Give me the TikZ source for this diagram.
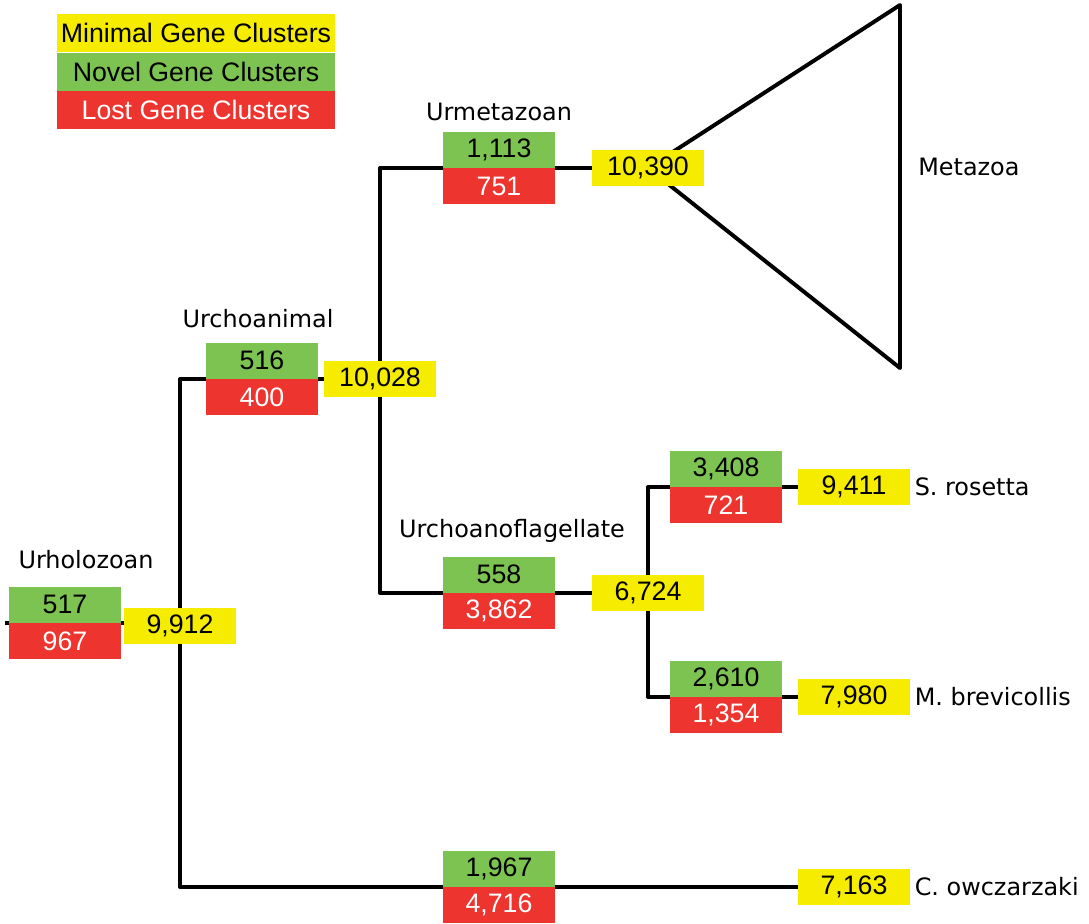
\documentclass[tikz,border=0pt]{standalone}
\usepackage{fontspec}
\setmainfont{Liberation Sans}
\newfontfamily\cladefont{DejaVu Sans}
\usetikzlibrary{positioning,backgrounds}
\definecolor{minyellow}{RGB}{246,236,0}
\definecolor{novelgreen}{RGB}{124,195,82}
\definecolor{lostred}{RGB}{238,52,47}
\tikzset{
  numbox/.style={minimum width=2.8cm,minimum height=0.9cm,inner sep=0pt,
    font=\fontsize{19}{22}\selectfont},
  novel/.style={numbox,fill=novelgreen,text=black,anchor=south},
  lost/.style={numbox,fill=lostred,text=white,anchor=north},
  minimal/.style={numbox,fill=minyellow,text=black,minimum width=2.775cm},
  keybox/.style={numbox,minimum width=6.95cm,minimum height=0.95cm},
  clade/.style={font=\cladefont\fontsize{17}{20}\selectfont},
  branch/.style={line width=2.8pt,line join=round}
}

\begin{document}
\begin{tikzpicture}[x=0.025cm,y=-0.025cm]
  \useasboundingbox (0,0) rectangle (1089,923);
  % legend
  \node[keybox,fill=minyellow] (key-min) at (196,33) {Minimal Gene Clusters};
  \node[keybox,fill=novelgreen,below=0pt of key-min] (key-novel) {Novel Gene Clusters};
  \node[keybox,fill=lostred,text=white,below=0pt of key-novel] (key-lost) {Lost Gene Clusters};

  % novel / lost per node
  \foreach \n/\x/\y/\g/\l in {uhz/65/623/517/967, uca/262/379/516/400,
      uma/499/168/{1,113}/751, cfl/499/593/558/{3,862}, srs/726/487/{3,408}/721,
      mbr/726/697/{2,610}/{1,354}, cow/499/887/{1,967}/{4,716}} {
    \node[novel] (\n-gain) at (\x,\y) {\g};
    \node[lost] (\n-loss) at (\x,\y) {\l};
  }
  % minimal sets
  \foreach \n/\x/\y/\m in {uhz/180/626/{9,912}, uca/380/379/{10,028},
      uma/648/168/{10,390}, cfl/648/593/{6,724}, srs/854/487/{9,411},
      mbr/854/697/{7,980}, cow/854/887/{7,163}}
    \node[minimal] (\n-min) at (\x,\y) {\m};

  \node[clade] (uhz-name) at (86,560) {Urholozoan};
  \node[clade] (uca-name) at (258,319) {Urchoanimal};
  \node[clade] (uma-name) at (499,112) {Urmetazoan};
  \node[clade] (cfl-name) at (512,531) {Urchoanoflagellate};
  \node[clade,anchor=west,inner sep=0pt] (metazoa) at (918,167) {Metazoa};
  \node[clade,right=0pt of srs-min] (srs-name) {S. rosetta};
  \node[clade,right=0pt of mbr-min] (mbr-name) {M. brevicollis};
  \node[clade,right=0pt of cow-min] (cow-name) {C. owczarzaki};

  \coordinate (root) at (5,623);
  \coordinate (fan-top) at (900,5);
  \coordinate (fan-bot) at (900,368);

  \begin{scope}[on background layer]
    \draw[branch] (root) -- (root -| uhz-min.west);
    \draw[branch] (uca-gain.south west) -| (uhz-min.north);
    \draw[branch] (uhz-min.south) |- (cow-min.west);
    \draw[branch] (uca-gain.south east) -- (uca-min.west);
    \draw[branch] (uma-gain.south west) -| (uca-min.north);
    \draw[branch] (uca-min.south) |- (cfl-gain.south west);
    \draw[branch] (uma-gain.south east) -- (uma-min.west);
    \draw[branch] (uma-min.center) -- (fan-top) -- (fan-bot) -- cycle;
    \draw[branch] (cfl-gain.south east) -- (cfl-min.west);
    \draw[branch] (srs-gain.south west) -| (cfl-min.north);
    \draw[branch] (cfl-min.south) |- (mbr-gain.south west);
    \draw[branch] (srs-gain.south east) -- (srs-min.west);
    \draw[branch] (mbr-gain.south east) -- (mbr-min.west);
  \end{scope}
\end{tikzpicture}
\end{document}
